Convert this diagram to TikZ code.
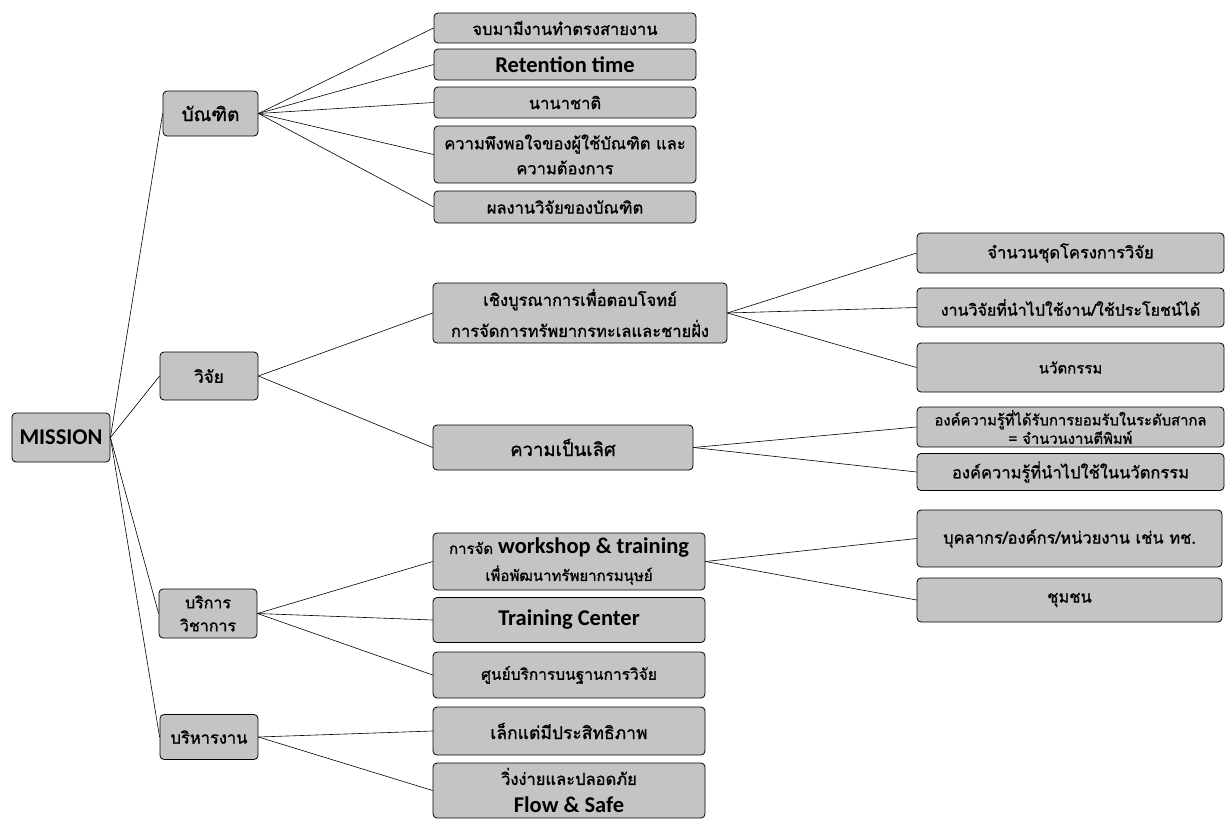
\documentclass[tikz,border=0pt]{standalone}
\usepackage{fontspec}
\newfontfamily\thai[Script=Thai, BoldFont=*, BoldFeatures={FakeBold=1.2}]{Loma}
\newfontfamily\lat{Carlito}
\newcommand\thsz[2]{\thai\bfseries\fontsize{#1}{#2}\selectfont}
\newcommand\ensz{\lat\bfseries\fontsize{22.5}{26}\selectfont}
\definecolor{boxgray}{HTML}{C4C4C4}
\tikzset{
  box/.style={draw=black, line width=0.8pt, rounded corners=4pt, fill=boxgray,
    align=center, inner sep=1pt, anchor=center,
    font=\thsz{16.5}{26}},
  en/.style={font=\ensz},
  link/.style={draw=black, line width=0.6pt}
}
\begin{document}
\begin{tikzpicture}[x=1pt,y=-1pt]
\useasboundingbox (0,0) rectangle (1227,819);
% root
\node[box, en, minimum width=98pt, minimum height=49pt] (mission) at (61,437.5) {MISSION};
% level 1
\node[box, font=\thsz{19}{24}, minimum width=95pt, minimum height=45pt] (grad) at (210.5,113.5) {บัณฑิต};
\node[box, font=\thsz{17}{24}, minimum width=98pt, minimum height=48pt] (res) at (209,376) {วิจัย};
\node[box, font=\thsz{16}{23}, minimum width=98pt, minimum height=49pt] (serv) at (208,613.5) {บริการ\\วิชาการ};
\node[box, minimum width=98pt, minimum height=45pt] (adm) at (209,737) {บริหารงาน};
% level 2 -- graduates
\node[box, minimum width=262pt, minimum height=30pt] (g1) at (565,28) {จบมามีงานทำตรงสายงาน};
\node[box, en, minimum width=262pt, minimum height=31pt] (g2) at (565,64.5) {Retention time};
\node[box, minimum width=262pt, minimum height=31pt] (g3) at (565,102.5) {นานาชาติ};
\node[box, font=\thsz{16.5}{25}, minimum width=262pt, minimum height=57pt] (g4) at (565,154.5) {ความพึงพอใจของผู้ใช้บัณฑิต และ\\ความต้องการ};
\node[box, minimum width=262pt, minimum height=32pt] (g5) at (565,207) {ผลงานวิจัยของบัณฑิต};
% level 2 -- research
\node[box, font=\thsz{16.5}{31}, minimum width=294pt, minimum height=60pt] (r1) at (580,313) {เชิงบูรณาการเพื่อตอบโจทย์\\การจัดการทรัพยากรทะเลและชายฝั่ง};
\node[box, font=\thsz{18.5}{26}, minimum width=260pt, minimum height=45pt] (r2) at (563,447.5) {ความเป็นเลิศ};
% level 2 -- service
\node[box, font=\thsz{15}{27}, minimum width=272pt, minimum height=57pt] (s1) at (569,561.5) {การจัด {\ensz workshop \& training}\\เพื่อพัฒนาทรัพยากรมนุษย์};
\node[box, en, minimum width=272pt, minimum height=45pt] (s2) at (569,620) {Training Center};
\node[box, font=\thsz{15.5}{24}, minimum width=272pt, minimum height=46pt] (s3) at (569,675) {ศูนย์บริการบนฐานการวิจัย};
% level 2 -- administration
\node[box, font=\thsz{17.5}{26}, minimum width=272pt, minimum height=48pt] (a1) at (569,731) {เล็กแต่มีประสิทธิภาพ};
\node[box, font=\thsz{16.5}{28}, minimum width=272pt, minimum height=55pt] (a2) at (569,790.5) {วิ่งง่ายและปลอดภัย\\{\ensz Flow \& Safe}};
% level 3
\node[box, minimum width=307pt, minimum height=40pt] (t1) at (1070.5,253) {จำนวนชุดโครงการวิจัย};
\node[box, font=\thsz{16}{22}, minimum width=307pt, minimum height=39pt] (t2) at (1070.5,307.5) {งานวิจัยที่นำไปใช้งาน/ใช้ประโยชน์ได้};
\node[box, font=\thsz{15}{22}, minimum width=307pt, minimum height=49pt] (t3) at (1070.5,367.5) {นวัตกรรม};
\node[box, font=\thsz{14.8}{18.5}, minimum width=307pt, minimum height=40pt] (t4) at (1070.5,427) {องค์ความรู้ที่ได้รับการยอมรับในระดับสากล\\= จำนวนงานตีพิมพ์};
\node[box, font=\thsz{16.5}{22}, minimum width=307pt, minimum height=37pt] (t5) at (1070.5,472) {องค์ความรู้ที่นำไปใช้ในนวัตกรรม};
\node[box, font=\thsz{16.5}{22}, minimum width=305pt, minimum height=57pt] (t6) at (1069.5,538.5) {บุคลากร/องค์กร/หน่วยงาน เช่น ทช.};
\node[box, font=\thsz{16.5}{22}, minimum width=305pt, minimum height=44pt] (t7) at (1069.5,600) {ชุมชน};
% connectors
\foreach \c in {grad,res,serv,adm}
  \draw[link] (mission.east) -- (\c.west);
\foreach \c in {g1,g2,g3,g4,g5}
  \draw[link] (grad.east) -- (\c.west);
\foreach \c in {r1,r2}
  \draw[link] (res.east) -- (\c.west);
\foreach \c in {s1,s2,s3}
  \draw[link] (serv.east) -- (\c.west);
\foreach \c in {a1,a2}
  \draw[link] (adm.east) -- (\c.west);
\foreach \c in {t1,t2,t3}
  \draw[link] (r1.east) -- (\c.west);
\foreach \c in {t4,t5}
  \draw[link] (r2.east) -- (\c.west);
\foreach \c in {t6,t7}
  \draw[link] (s1.east) -- (\c.west);
\end{tikzpicture}
\end{document}
